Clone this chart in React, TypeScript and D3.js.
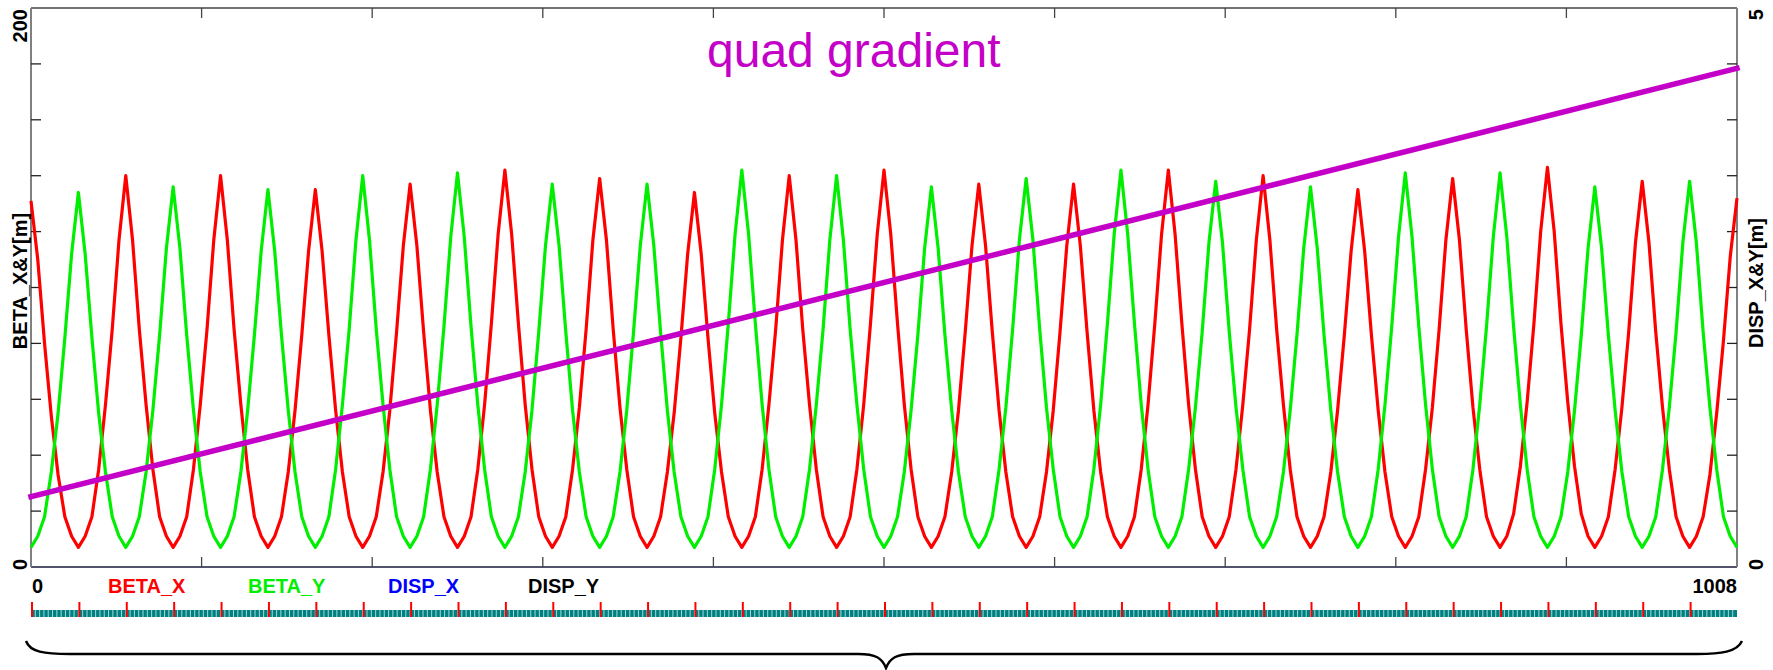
import React from "react";
import * as d3 from "d3";

// ---- data ----
const S_MAX = 1008;
const S_STEP = 4; // sample spacing of the beta arrays (m)

// BETA_X [m], samples at s = 0, 4, 8, ..., 1008
const betaX = [
  131, 110, 80, 54, 33, 18, 11, 7, 11, 18, 35, 58, 85, 117,
  140, 117, 85, 58, 35, 18, 11, 7, 11, 18, 35, 58, 85, 117,
  140, 117, 85, 58, 35, 18, 11, 7, 11, 18, 34, 56, 83, 113,
  135, 113, 83, 56, 34, 18, 11, 7, 11, 18, 34, 56, 84, 115,
  137, 115, 84, 56, 34, 18, 11, 7, 11, 18, 35, 58, 87, 119,
  142, 119, 87, 58, 35, 18, 11, 7, 11, 18, 35, 57, 85, 117,
  139, 117, 85, 57, 35, 18, 11, 7, 11, 18, 34, 55, 82, 112,
  134, 112, 82, 55, 34, 18, 11, 7, 11, 18, 35, 58, 85, 117,
  140, 117, 85, 58, 35, 18, 11, 7, 11, 18, 35, 58, 87, 119,
  142, 119, 87, 58, 35, 18, 11, 7, 11, 18, 34, 56, 84, 115,
  137, 115, 84, 56, 34, 18, 11, 7, 11, 18, 34, 56, 84, 115,
  137, 115, 84, 56, 34, 18, 11, 7, 11, 18, 35, 58, 87, 119,
  142, 119, 87, 58, 35, 18, 11, 7, 11, 18, 35, 58, 85, 117,
  140, 117, 85, 58, 35, 18, 11, 7, 11, 18, 34, 56, 83, 113,
  135, 113, 83, 56, 34, 18, 11, 7, 11, 18, 35, 57, 85, 117,
  139, 117, 85, 57, 35, 18, 11, 7, 11, 19, 36, 59, 87, 120,
  143, 120, 87, 59, 36, 19, 11, 7, 11, 18, 35, 57, 84, 116,
  138, 116, 84, 57, 35, 18, 11, 7, 11, 18, 33, 55, 81, 111,
  132,
];

// BETA_Y [m], samples at s = 0, 4, 8, ..., 1008
const betaY = [
  7, 11, 18, 34, 55, 82, 112, 134, 112, 82, 55, 34, 18, 11,
  7, 11, 18, 34, 56, 83, 114, 136, 114, 83, 56, 34, 18, 11,
  7, 11, 18, 34, 56, 83, 113, 135, 113, 83, 56, 34, 18, 11,
  7, 11, 18, 35, 58, 85, 117, 140, 117, 85, 58, 35, 18, 11,
  7, 11, 18, 35, 58, 86, 118, 141, 118, 86, 58, 35, 18, 11,
  7, 11, 18, 34, 56, 84, 115, 137, 115, 84, 56, 34, 18, 11,
  7, 11, 18, 34, 56, 84, 115, 137, 115, 84, 56, 34, 18, 11,
  7, 11, 18, 35, 58, 87, 119, 142, 119, 87, 58, 35, 18, 11,
  7, 11, 18, 35, 58, 85, 117, 140, 117, 85, 58, 35, 18, 11,
  7, 11, 18, 34, 56, 83, 114, 136, 114, 83, 56, 34, 18, 11,
  7, 11, 18, 35, 57, 85, 117, 139, 117, 85, 57, 35, 18, 11,
  7, 11, 18, 35, 58, 87, 119, 142, 119, 87, 58, 35, 18, 11,
  7, 11, 18, 35, 57, 84, 116, 138, 116, 84, 57, 35, 18, 11,
  7, 11, 18, 34, 56, 83, 114, 136, 114, 83, 56, 34, 18, 11,
  7, 11, 18, 35, 58, 86, 118, 141, 118, 86, 58, 35, 18, 11,
  7, 11, 18, 35, 58, 86, 118, 141, 118, 86, 58, 35, 18, 11,
  7, 11, 18, 34, 56, 83, 114, 136, 114, 83, 56, 34, 18, 11,
  7, 11, 18, 35, 57, 84, 116, 138, 116, 84, 57, 35, 18, 11,
  7,
];

// quad gradient line (right axis units) at s = 0 and s = 1008
const quadS = [0, 1008];
const quadGrad = [0.63, 4.46];

const xTickValues = [100.8, 201.6, 302.4, 403.2, 504, 604.8, 705.6, 806.4, 907.2];
const yLeftTicks = [20, 40, 60, 80, 100, 120, 140, 160, 180];
const yRightTicks = [0.5, 1, 1.5, 2, 2.5, 3, 3.5, 4, 4.5];
const quadPositions = d3.range(0, 36).map((i) => i * 28); // quadrupole centres every 28 m

const legendItems = [
  { label: "BETA_X", color: "#ff0000" },
  { label: "BETA_Y", color: "#00ee00" },
  { label: "DISP_X", color: "#0000ff" },
  { label: "DISP_Y", color: "#000000" },
];

export default function App() {
  const W = 1773;
  const H = 670;
  const L = 31;
  const R = 1737;
  const T = 8;
  const B = 567;

  const x = d3.scaleLinear().domain([0, S_MAX]).range([L, R]);
  const yL = d3.scaleLinear().domain([0, 200]).range([B, T]);
  const yR = d3.scaleLinear().domain([0, 5]).range([B, T]);

  const lineL = d3
    .line<number>()
    .x((_, i) => x(i * S_STEP))
    .y((d) => yL(d));
  const quadLine = d3
    .line<number>()
    .x((_, i) => x(quadS[i]))
    .y((d) => yR(d));

  const font = "'Liberation Sans', Arial, Helvetica, sans-serif";
  const legendX = [108, 248, 388, 528];

  // element bar
  const barY = 610;
  const barH = 7;
  const segPerHalf = 11;
  const nSeg = 36 * segPerHalf;
  const segW = (R - L) / nSeg;

  const brace = `M26,641 C30,652 44,654 70,654 L858,654 C876,654 882,658 886,668 C890,658 896,654 914,654 L1697,654 C1721,654 1737,652 1742,641`;

  return (
    <svg
      width={W}
      height={H}
      style={{ position: "absolute", left: 0, top: 0, background: "#fff" }}
      fontFamily={font}
    >
      <rect x={0} y={0} width={W} height={H} fill="#fff" />
      {/* frame */}
      <line x1={L} y1={T} x2={R} y2={T} stroke="#444" strokeWidth={1.5} />
      <line x1={L} y1={B} x2={R} y2={B} stroke="#1a1a3a" strokeWidth={1.5} />
      <line x1={L} y1={T} x2={L} y2={B} stroke="#808080" strokeWidth={2} />
      <line x1={R} y1={T} x2={R} y2={B} stroke="#808080" strokeWidth={2} />

      {/* ticks */}
      {xTickValues.map((t) => (
        <g key={"xt" + t}>
          <line x1={x(t)} x2={x(t)} y1={T} y2={T + 10} stroke="#444" strokeWidth={1.3} />
          <line x1={x(t)} x2={x(t)} y1={B} y2={B - 10} stroke="#444" strokeWidth={1.3} />
        </g>
      ))}
      {yLeftTicks.map((t) => (
        <line key={"yl" + t} x1={L} x2={L + 10} y1={yL(t)} y2={yL(t)} stroke="#222" strokeWidth={1.3} />
      ))}
      {yRightTicks.map((t) => (
        <line key={"yr" + t} x1={R} x2={R - 10} y1={yR(t)} y2={yR(t)} stroke="#222" strokeWidth={1.3} />
      ))}

      {/* curves */}
      <path d={lineL(betaX) || ""} fill="none" stroke="#ff0000" strokeWidth={3.2} strokeLinejoin="round" />
      <path d={lineL(betaY) || ""} fill="none" stroke="#00ee00" strokeWidth={3.2} strokeLinejoin="round" />
      <path d={quadLine(quadGrad) || ""} fill="none" stroke="#c400c8" strokeWidth={5.5} strokeLinecap="square" />

      <text x={707} y={67} fontSize={48} fill="#c400c8">
        quad gradient
      </text>

      {/* axis labels */}
      <g fontWeight="bold" fontSize={20} fill="#000">
        <text transform={`translate(27,${T + 1}) rotate(-90)`} textAnchor="end">200</text>
        <text transform={`translate(27,${B + 3}) rotate(-90)`} textAnchor="start">0</text>
        <text transform={`translate(27,281) rotate(-90)`} textAnchor="middle">BETA_X&amp;Y[m]</text>
        <text transform={`translate(1763,${T + 1}) rotate(-90)`} textAnchor="end">5</text>
        <text transform={`translate(1763,${B + 3}) rotate(-90)`} textAnchor="start">0</text>
        <text transform={`translate(1763,283) rotate(-90)`} textAnchor="middle">DISP_X&amp;Y[m]</text>

        <text x={L + 1} y={593}>0</text>
        <text x={R} y={593} textAnchor="end">{String(S_MAX)}</text>
        {legendItems.map((it, i) => (
          <text key={it.label} x={legendX[i]} y={593} fill={it.color}>
            {it.label}
          </text>
        ))}
      </g>

      {/* element bar */}
      <rect x={L} y={barY} width={R - L} height={barH} fill="#008080" />
      {d3.range(1, nSeg).map((i) => (
        <line
          key={"sg" + i}
          x1={L + i * segW}
          x2={L + i * segW}
          y1={barY}
          y2={barY + barH}
          stroke="#a6d6d6"
          strokeWidth={1}
        />
      ))}
      {quadPositions.map((s) => (
        <line key={"q" + s} x1={x(s) + 1} x2={x(s) + 1} y1={602} y2={barY + barH} stroke="#ff0000" strokeWidth={2} />
      ))}

      {/* brace */}
      <path d={brace} fill="none" stroke="#000" strokeWidth={2.5} />
    </svg>
  );
}
